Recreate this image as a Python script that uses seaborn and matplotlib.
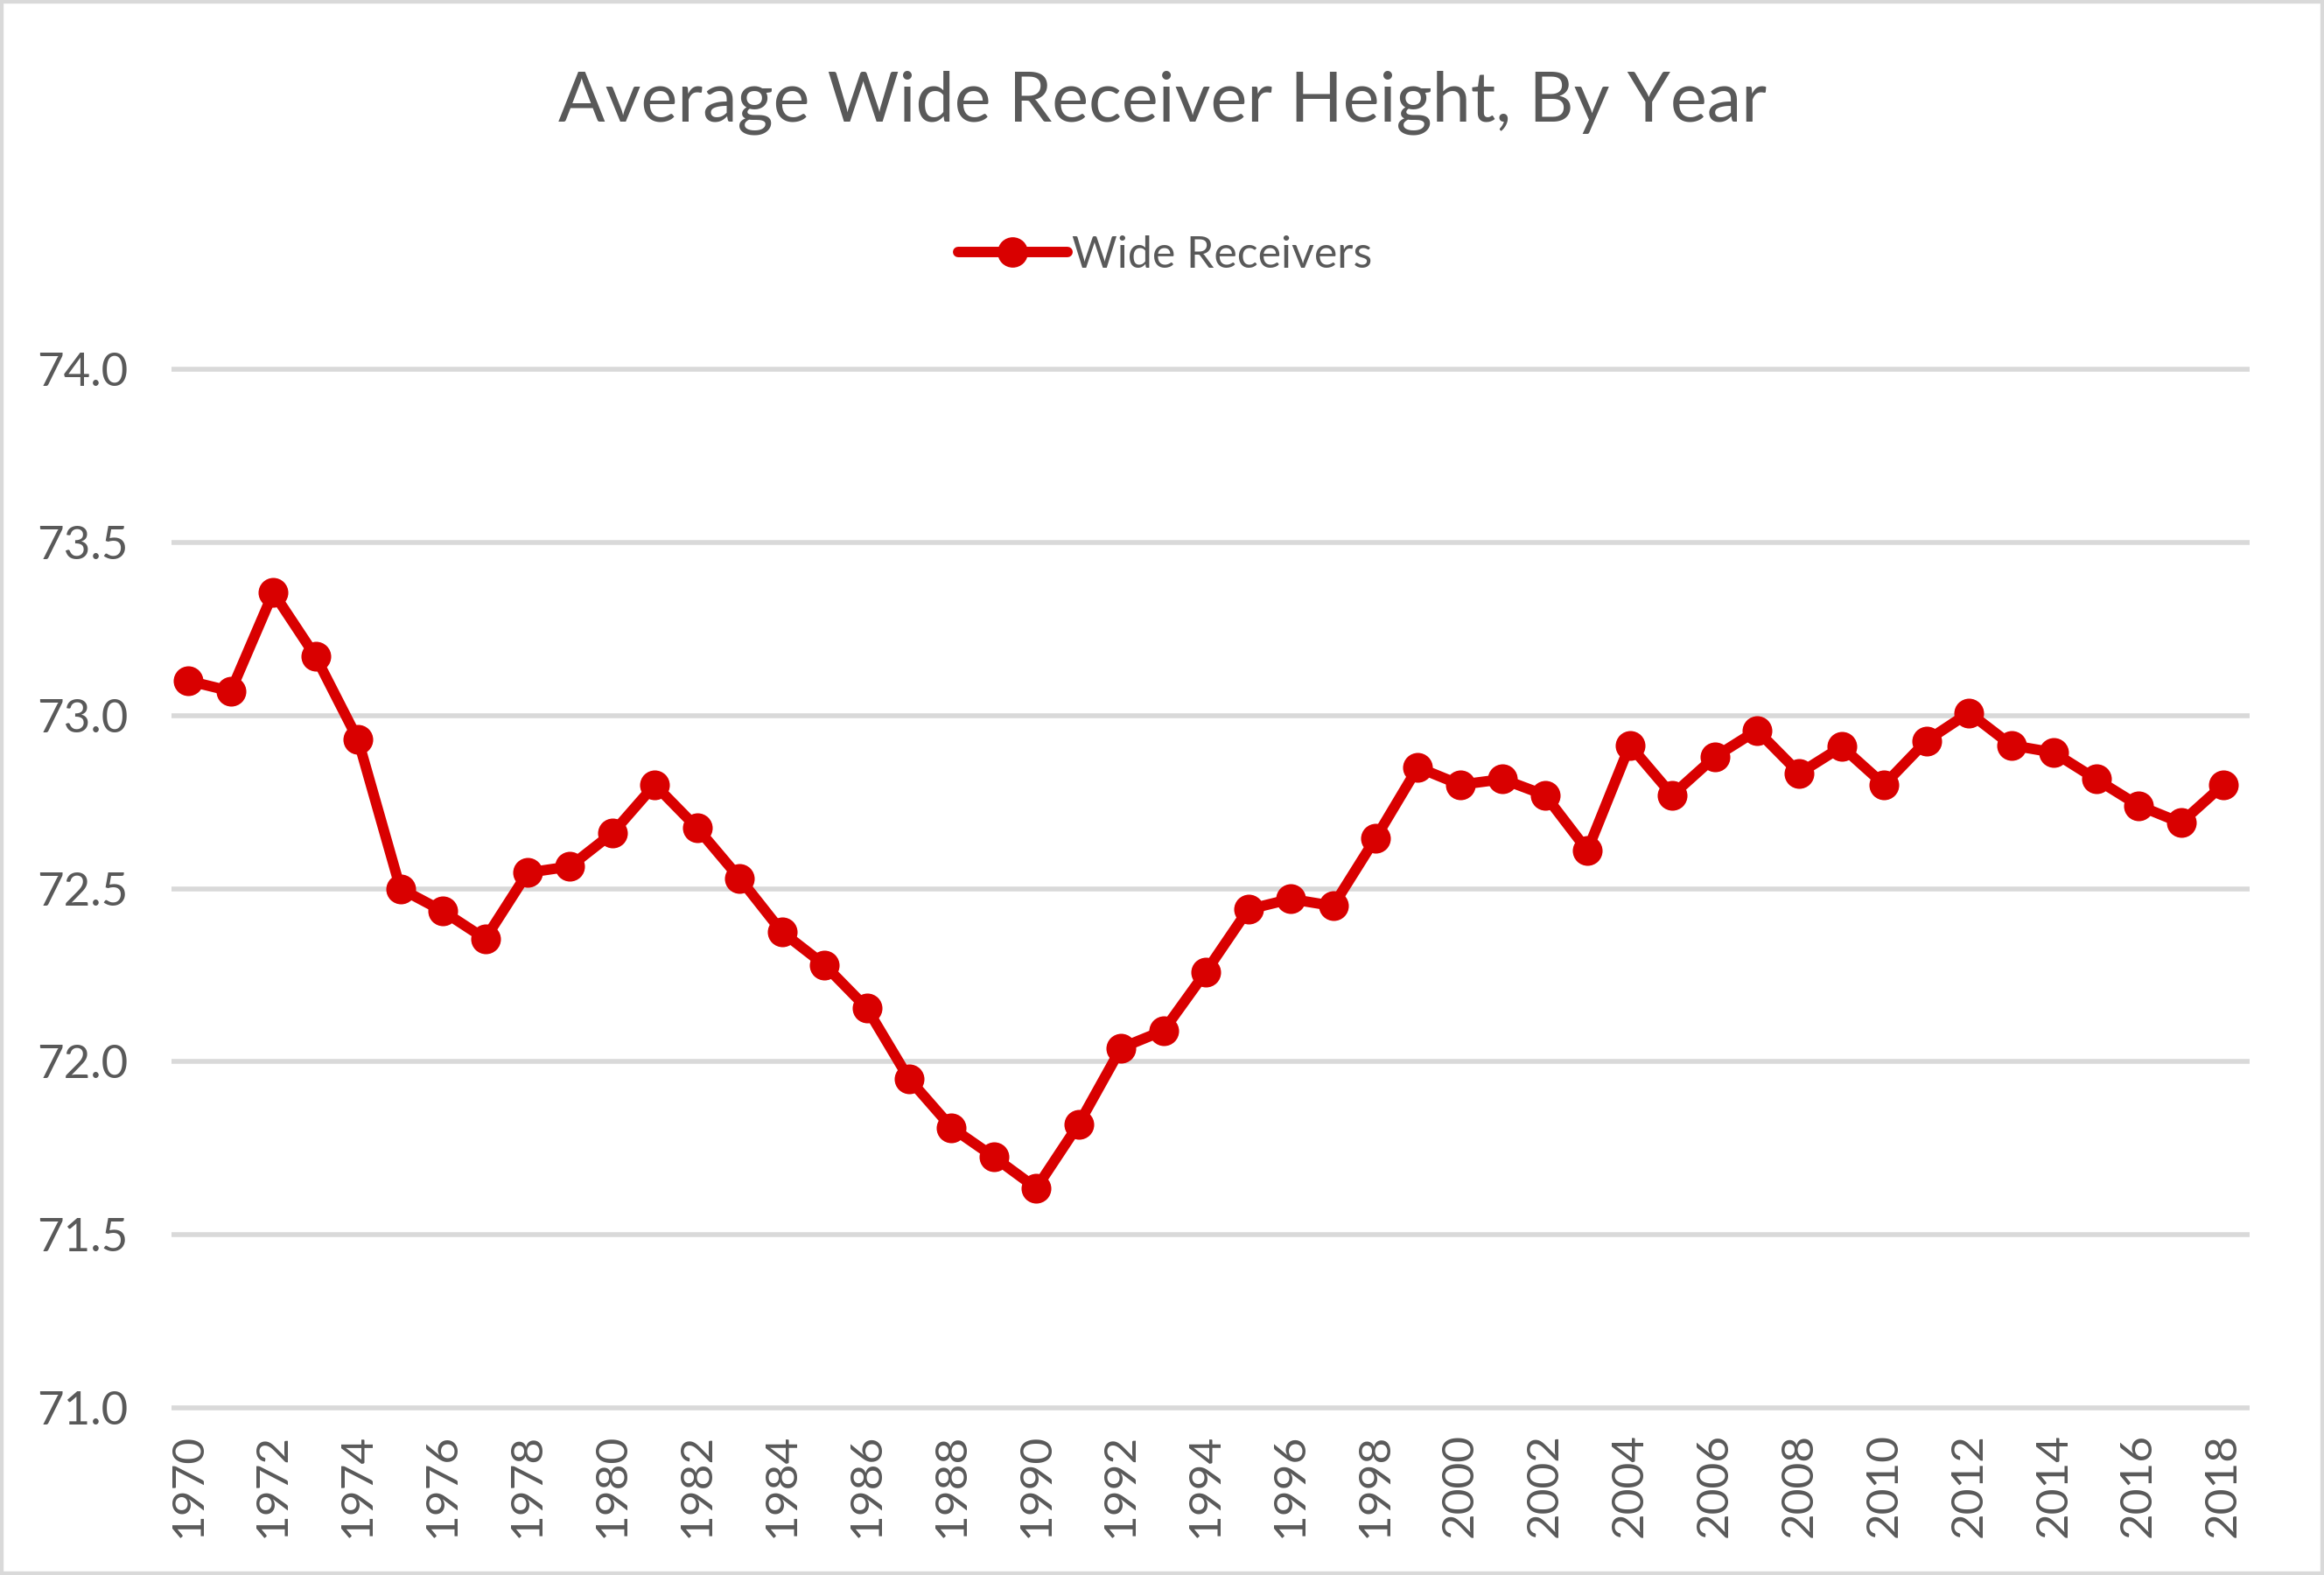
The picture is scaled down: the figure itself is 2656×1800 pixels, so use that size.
import matplotlib
matplotlib.use("Agg")
import matplotlib.pyplot as plt
import seaborn as sns
import pandas as pd
from matplotlib.lines import Line2D
from matplotlib.patches import Rectangle

years = list(range(1970, 2019))
heights = [73.10, 73.07, 73.355, 73.17, 72.93, 72.50, 72.435, 72.355, 72.546, 72.564,
           72.66, 72.80, 72.675, 72.53, 72.375, 72.28, 72.155, 71.95, 71.81, 71.725,
           71.635, 71.82, 72.04, 72.09, 72.26, 72.44, 72.47, 72.45, 72.645, 72.85,
           72.80, 72.816, 72.77, 72.61, 72.914, 72.77, 72.88, 72.957, 72.833, 72.91,
           72.80, 72.927, 73.008, 72.914, 72.893, 72.816, 72.74, 72.69, 72.80]
series_name = "Wide Receivers"
title = "Average Wide Receiver Height, By Year"
yticks = [71.0, 71.5, 72.0, 72.5, 73.0, 73.5, 74.0]
xticks = list(range(1970, 2019, 2))

df = pd.DataFrame({"Year": years, "Height": heights})

sns.set_style("white")
plt.rcParams['font.family'] = ['Lato', 'DejaVu Sans']

RED = '#D90000'
TXT = '#595959'
GRID = '#D9D9D9'

fig = plt.figure(figsize=(13.28, 9.0), dpi=200)
ax = fig.add_axes([0.0738, 0.0994, 0.968 - 0.0738, 0.7722 - 0.0994])

sns.lineplot(data=df, x="Year", y="Height", ax=ax, color=RED, linewidth=4.3,
             marker='o', markersize=11.5, markeredgecolor=RED, markerfacecolor=RED,
             legend=False, zorder=3)

ax.set_ylim(70.97, 74.03)
ax.set_xlim(1969.6, 2018.62)
ax.set_yticks(yticks)
ax.set_yticklabels([f"{v:.1f}" for v in yticks])
ax.set_xticks(xticks)
ax.set_xticklabels([str(v) for v in xticks], rotation=90)
ax.yaxis.grid(True, color=GRID, linewidth=2.0)
ax.xaxis.grid(False)
ax.set_axisbelow(True)
for s in ax.spines.values():
    s.set_visible(False)
ax.tick_params(axis='y', length=0, pad=18, labelsize=19, labelcolor=TXT)
ax.tick_params(axis='x', length=0, pad=6, labelsize=18.5, labelcolor=TXT)
ax.set_xlabel("")
ax.set_ylabel("")

fig.text(0.5, 0.935, title, ha='center', va='center', fontsize=28.5, color=TXT)

handle = Line2D([], [], color=RED, linewidth=4.3, marker='o', markersize=11.5,
                markerfacecolor=RED, markeredgecolor=RED)
fig.legend([handle], [series_name], loc='center', bbox_to_anchor=(0.5013, 0.838),
           frameon=False, fontsize=18, labelcolor=TXT, handlelength=2.5,
           handletextpad=0.1)

fig.add_artist(Rectangle((0, 0), 1, 1, transform=fig.transFigure, fill=False,
                         edgecolor=GRID, linewidth=3.0, zorder=10))

fig.savefig("out.png", dpi=200, facecolor='white')
